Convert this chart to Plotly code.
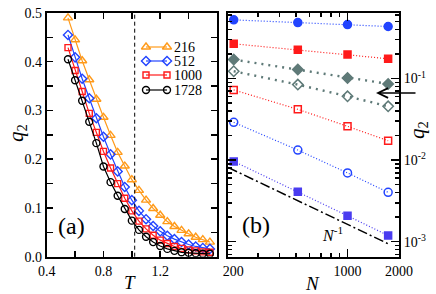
import plotly.graph_objects as go
import numpy as np

# ---------------- Panel (a) data ----------------
T = [0.55, 0.60, 0.65, 0.70, 0.75, 0.80, 0.85, 0.90, 0.95, 1.00, 1.05,
     1.10, 1.15, 1.20, 1.25, 1.30, 1.35, 1.40, 1.45, 1.50, 1.55]
q_216 = [0.490, 0.445, 0.402, 0.363, 0.323, 0.286, 0.249, 0.214, 0.186, 0.158, 0.136,
         0.116, 0.099, 0.085, 0.072, 0.062, 0.054, 0.047, 0.040, 0.035, 0.030]
q_512 = [0.455, 0.409, 0.365, 0.325, 0.284, 0.246, 0.210, 0.175, 0.143, 0.116, 0.094,
         0.077, 0.063, 0.052, 0.043, 0.036, 0.030, 0.025, 0.021, 0.018, 0.016]
q_1000 = [0.429, 0.382, 0.339, 0.294, 0.255, 0.216, 0.182, 0.150, 0.120, 0.094, 0.073,
          0.057, 0.044, 0.034, 0.027, 0.021, 0.017, 0.014, 0.012, 0.010, 0.009]
q_1728 = [0.405, 0.362, 0.320, 0.277, 0.233, 0.185, 0.153, 0.125, 0.098, 0.074, 0.055,
          0.041, 0.030, 0.022, 0.016, 0.012, 0.009, 0.008, 0.007, 0.006, 0.006]
sizes = ["216", "512", "1000", "1728"]
Tc = 1.02

# ---------------- Panel (b) data ----------------
N = [216, 512, 1000, 1728]
b_blue_filled = [0.525, 0.486, 0.460, 0.435]
b_red_filled = [0.267, 0.225, 0.197, 0.175]
b_gray_filled = [0.171, 0.129, 0.102, 0.0861]
b_gray_open = [0.123, 0.0844, 0.0606, 0.0457]
b_red_open = [0.0726, 0.0420, 0.0260, 0.0173]
b_blue_open = [0.0291, 0.0133, 0.00697, 0.00403]
b_violet_filled = [0.00966, 0.00410, 0.00208, 0.00119]
N_guide = [200, 1780]
C_guide = 1.63

ORANGE = "#ff9a1a"
BLUE = "#2244ff"
RED = "#ff1a1a"
GRAY = "#5f7a78"
VIOLET = "#4a3cf0"
FONT = "Liberation Serif, DejaVu Serif, serif"
W, H = 436, 294

fig = go.Figure()

styles_a = [
    (q_216, ORANGE, "triangle-up-open", 8),
    (q_512, BLUE, "diamond-open", 7),
    (q_1000, RED, "square-open", 6),
    (q_1728, "black", "circle-open", 7),
]

# Panel (a)
for (q, col, sym, sz), name in zip(styles_a, sizes):
    fig.add_trace(go.Scatter(x=T, y=q, name=name, mode="lines+markers", showlegend=False,
                             line=dict(color=col, width=1.2),
                             marker=dict(symbol=sym, size=sz, color=col,
                                         line=dict(width=1.4, color=col)),
                             xaxis="x", yaxis="y"))

# Legend of panel (a): line sample with a marker at each end (pixel-frame axis)
LX0, LX1, LY0, LY1 = 136, 206, 38, 98
leg_x = [146, 167]
leg_rows = [47, 61, 75, 90]
for (q, col, sym, sz), name, ry in zip(styles_a, sizes, leg_rows):
    fig.add_trace(go.Scatter(x=leg_x, y=[ry, ry], mode="lines+markers", showlegend=False,
                             line=dict(color=col, width=1.2),
                             marker=dict(symbol=sym, size=sz, color=col,
                                         line=dict(width=1.4, color=col)),
                             xaxis="x3", yaxis="y3", hoverinfo="skip"))
    fig.add_annotation(text=name, xref="x3", yref="y3", x=172, y=ry, xanchor="left",
                       yanchor="middle", showarrow=False,
                       font=dict(family=FONT, size=14, color="black"))

# Panel (b)
def add_b(y, col, sym, sz, dash, lw):
    fig.add_trace(go.Scatter(x=N, y=y, mode="lines+markers", showlegend=False,
                             line=dict(color=col, width=lw, dash=dash),
                             marker=dict(symbol=sym, size=sz, color=col,
                                         line=dict(width=1.5, color=col)),
                             xaxis="x2", yaxis="y2"))

add_b(b_blue_filled, BLUE, "circle", 8, "1px,2px", 1.2)
add_b(b_red_filled, RED, "square", 7, "1px,2px", 1.2)
add_b(b_gray_filled, GRAY, "diamond", 8, "2px,5px", 2.4)
add_b(b_gray_open, GRAY, "diamond-open", 8, "2px,5px", 2.4)
add_b(b_red_open, RED, "square-open", 7, "1px,2px", 1.2)
add_b(b_blue_open, BLUE, "circle-open", 8, "1px,2px", 1.2)
add_b(b_violet_filled, VIOLET, "square", 7, "1px,2px", 1.2)

fig.add_trace(go.Scatter(x=N_guide, y=[C_guide / n for n in N_guide], mode="lines",
                         showlegend=False,
                         line=dict(color="black", width=1.5, dash="10px,3px,2px,3px"),
                         xaxis="x2", yaxis="y2"))

axcommon = dict(showline=True, linecolor="black", linewidth=2, mirror="allticks",
                ticks="inside", tickcolor="black", tickwidth=1.5, showgrid=False,
                zeroline=False, automargin=False,
                tickfont=dict(family=FONT, size=14, color="black"))

xa_ticks = [0.4, 0.6, 0.8, 1.0, 1.2, 1.4, 1.6]
xa_text = ["0.4", "", "0.8", "", "1.2", "", ""]
ya_ticks = [round(0.05 * i, 2) for i in range(11)]
ya_text = [("%.1f" % v) if i % 2 == 0 else "" for i, v in enumerate(ya_ticks)]

xb_major = [200, 1000, 2000]
xb_text = ["\u00a0\u00a0\u00a0200", "1000", "2000"]
xb_minor = [300, 400, 500, 600, 700, 800, 900]
yb_major = [1e-3, 1e-2, 1e-1]
yb_text = ["10<sup>-3</sup>", "10<sup>-2</sup>", "10<sup>-1</sup>"]
yb_minor = [m * d for d in (1e-4, 1e-3, 1e-2, 1e-1) for m in range(2, 10)]

fig.update_layout(
    template="none",
    width=W, height=H, margin=dict(l=0, r=0, t=0, b=0, autoexpand=False),
    paper_bgcolor="white", plot_bgcolor="rgba(0,0,0,0)",
    font=dict(family=FONT, color="black"),
    showlegend=False,
    hovermode=False,
    xaxis=dict(domain=[46.7 / W, 217 / W], range=[0.4, 1.6], tickmode="array",
               tickvals=xa_ticks, ticktext=xa_text, ticklen=6,
               anchor="y", **axcommon),
    yaxis=dict(domain=[1 - 256.7 / H, 1 - 13 / H], range=[0, 0.5], tickmode="array",
               tickvals=ya_ticks, ticktext=ya_text, ticklen=6,
               anchor="x", **axcommon),
    xaxis2=dict(domain=[228 / W, 399 / W], type="log",
                range=[np.log10(200), np.log10(2000)], tickmode="array",
                tickvals=xb_major, ticktext=xb_text, ticklen=8,
                minor=dict(tickvals=xb_minor, ticklen=4, ticks="inside",
                           tickcolor="black", tickwidth=1.5, showgrid=False),
                anchor="y2", **axcommon),
    yaxis2=dict(domain=[1 - 256.7 / H, 1 - 13 / H], type="log", side="right",
                range=[np.log10(6.55e-4), np.log10(0.637)], tickmode="array",
                tickvals=yb_major, ticktext=yb_text, ticklen=8,
                minor=dict(tickvals=yb_minor, ticklen=4, ticks="inside",
                           tickcolor="black", tickwidth=1.5, showgrid=False),
                anchor="x2", **axcommon),
    xaxis3=dict(domain=[LX0 / W, LX1 / W], range=[LX0, LX1], visible=False,
                fixedrange=True, automargin=False, anchor="y3", showgrid=False,
                zeroline=False),
    yaxis3=dict(domain=[1 - LY1 / H, 1 - LY0 / H], range=[LY1, LY0], visible=False,
                fixedrange=True, automargin=False, anchor="x3", showgrid=False,
                zeroline=False),
)

fig.add_shape(type="line", xref="x", yref="y domain", x0=Tc, x1=Tc, y0=0, y1=1,
              line=dict(color="black", width=1, dash="4px,3px"))

def note(text, x, y, size, angle=0):
    fig.add_annotation(text=text, xref="paper", yref="paper", x=x / W, y=1 - y / H,
                       xanchor="center", yanchor="middle",
                       showarrow=False, textangle=angle,
                       font=dict(family=FONT, size=size, color="black"))

note("(a)", 71, 226, 24)
note("(b)", 256, 225, 24)
note("<i>N</i><sup>-1</sup>", 332, 234, 16)
note("<i>T</i>", 130, 282, 19)
note("<i>N</i>", 312, 283, 19)
note("<i>q</i><sub>2</sub>", 17, 133, 21, angle=-90)
note("<i>q</i><sub>2</sub>", 418, 130, 21, angle=-90)

fig.add_annotation(text="", xref="paper", yref="paper", x=376 / W, y=1 - 93 / H,
                   ax=41, ay=0, showarrow=True, arrowhead=5, arrowsize=1.3,
                   arrowwidth=1.5, arrowcolor="black")

fig.write_html("out.html", config={"displayModeBar": False, "staticPlot": True},
               post_script="document.body.style.margin='0px';document.body.style.padding='0px';")
